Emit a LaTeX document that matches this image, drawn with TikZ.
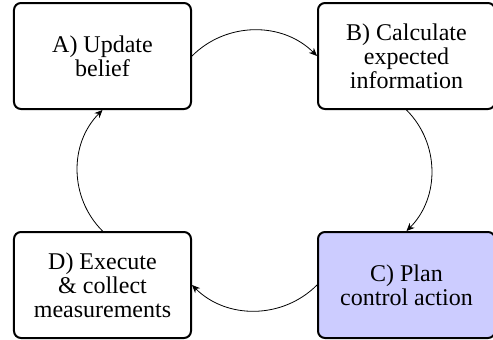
\documentclass[tikz,border=0pt]{standalone}
\usepackage{fontspec}
\setmainfont{Liberation Serif}
\usetikzlibrary{positioning,arrows.meta}
\usepackage{xcolor}
\tikzset{
    stage/.style={
        draw,
        line width=1pt,
        rounded corners=3.5pt,
        align=center,
        minimum width=88.5pt,
        minimum height=53pt,
        inner sep=2pt,
        font=\fontsize{12pt}{12pt}\selectfont
    },
    flow/.style={
        -{Stealth[length=4pt,width=3.5pt]},
        bend left=45
    }
}

\begin{document}
\begin{tikzpicture}[node distance=60.5pt and 62.5pt]
        \useasboundingbox (-51.25pt,28pt) rectangle (195.25pt,-141.5pt);
        \node[stage] (update) at (0,0) {A) Update\\belief};
        \node[stage,right=of update] (calc) {B) Calculate\\expected\\information};
        \node[stage,below=of calc,fill=blue!20] (plan) {C) Plan\\control action};
        \node[stage,below=of update] (exec) {D) Execute\\\& collect\\measurements};
        \draw[flow] (update.east) to (calc.west);
        \draw[flow] (calc.south) to (plan.north);
        \draw[flow] (plan.west) to (exec.east);
        \draw[flow] (exec.north) to (update.south);
    \end{tikzpicture}
\end{document}
